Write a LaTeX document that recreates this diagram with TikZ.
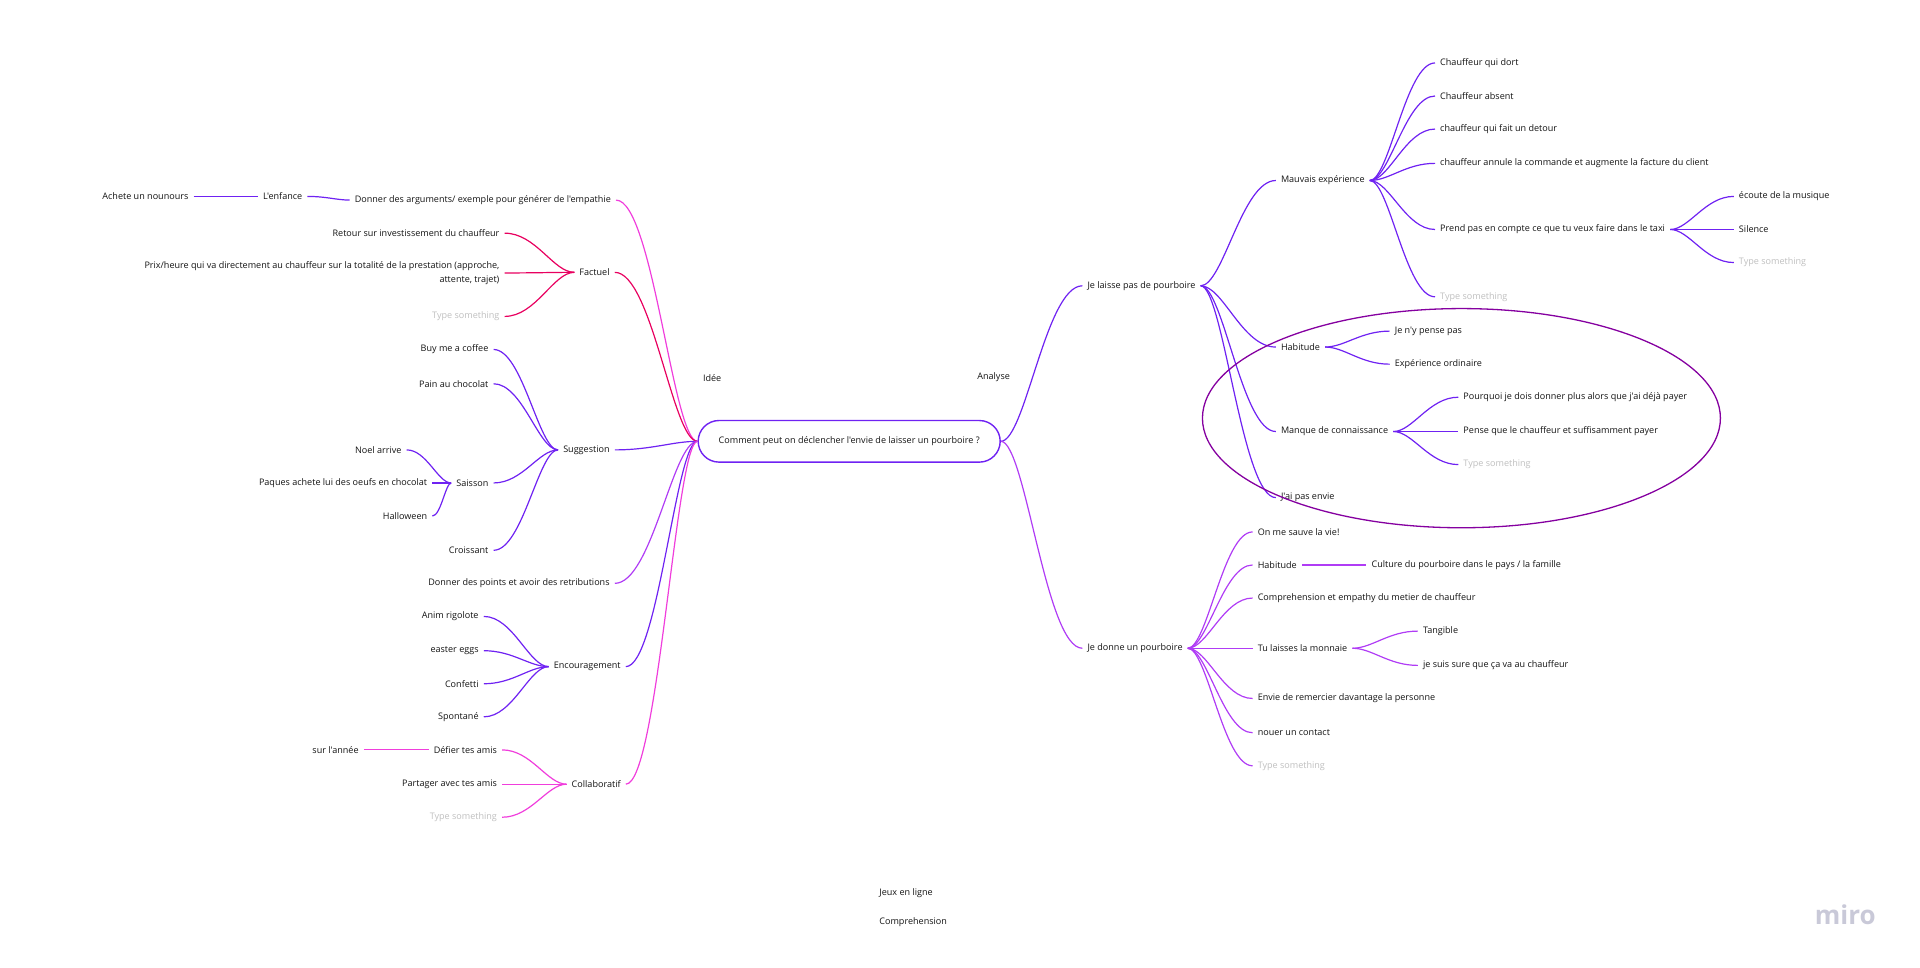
\documentclass[tikz,border=0pt]{standalone}
\usepackage{fontspec}
\newfontfamily\mapfont{Open Sans}
\usetikzlibrary{calc}
\definecolor{violetl}{HTML}{6F22F2}
\definecolor{purplel}{HTML}{B03CF5}
\definecolor{pinkl}{HTML}{F03EDC}
\definecolor{redl}{HTML}{E8005F}
\definecolor{ringl}{HTML}{8500A0}
\definecolor{mirol}{HTML}{C9C9D8}
\tikzset{
    item/.style={font=\mapfont\fontsize{9.05}{13.4}\selectfont, text=black!92, inner xsep=5pt, inner ysep=1pt, yshift=-0.5pt},
    tor/.style={item, anchor=west, xshift=-5pt},
    tol/.style={item, anchor=east, xshift=5pt, align=right},
    ghost/.style={text=black!25},
    linkr/.style={line width=1.2pt, to path={let \p1=(\tikztostart), \p2=(\tikztotarget) in
        (\p1) .. controls (0.7*\x1+0.3*\x2,\y1) and (0.45*\x1+0.55*\x2,\y2) .. (\p2)}},
    linkl/.style={line width=1.2pt, to path={let \p1=(\tikztostart), \p2=(\tikztotarget) in
        (\p1) .. controls (0.55*\x1+0.45*\x2,\y1) and (0.3*\x1+0.7*\x2,\y2) .. (\p2)}},
}
\begin{document}
\begin{tikzpicture}[x=1.2245pt, y=-1.2245pt]
    \useasboundingbox (0,0) rectangle (1568,790.5);

    % centre
    \node[item, draw=violetl, line width=1.4pt, rounded corners=20.8pt, minimum width=302pt, minimum height=41.6pt] (root) at (693.5,360) {Comment peut on déclencher l'envie de laisser un pourboire ?};
    \node[tor] (idee) at (574,308) {Idée};
    \node[tor] (analyse) at (798,308) {Analyse};
    \node[tor] (jeux) at (718,729) {Jeux en ligne};
    \node[tor] (compr) at (718,753) {Comprehension};
    \node[item, font=\mapfont\bfseries\fontsize{26}{26}\selectfont, text=mirol, anchor=east, inner xsep=0pt] (miro) at (1532,747) {miro};

    % arguments
    \node[tol] (enfant) at (154,160) {Achete un nounours};
    \node[tol] (enfance) at (247,160) {L'enfance};
    \node[tol] (args) at (499,163) {Donner des arguments/ exemple pour générer de l'empathie};
    \draw[linkl, violetl] (enfant.east) to (enfance.west);
    \draw[linkl, violetl] (enfance.east) to (args.west);
    \draw[linkl, pinkl] (args.east) to (root.west);

    % factuel
    \node[tol] (factuel) at (498,222) {Factuel};
    \node[tol] (retour) at (408,190) {Retour sur investissement du chauffeur};
    \node[tol] (prix) at (408,222.5) {Prix/heure qui va directement au chauffeur sur la totalité de la prestation (approche,\\attente, trajet)};
    \node[tol, ghost] (factype) at (408,258) {Type something};
    \draw[linkl, redl] (factuel.east) to (root.west);
    \draw[linkl, redl] (retour.east) to (factuel.west);
    \draw[linkl, redl] (prix.east) to (factuel.west);
    \draw[linkl, redl] (factype.east) to (factuel.west);

    % suggestion
    \node[tol] (sugg) at (498,367) {Suggestion};
    \node[tol] (coffee) at (399,285) {Buy me a coffee};
    \node[tol] (pain) at (399,313) {Pain au chocolat};
    \node[tol] (saisson) at (399,394) {Saisson};
    \node[tol] (croissant) at (399,449) {Croissant};
    \node[tol] (noel) at (328,367) {Noel arrive};
    \node[tol] (paques) at (349,394) {Paques achete lui des oeufs en chocolat};
    \node[tol] (halloween) at (349,421) {Halloween};
    \draw[linkl, violetl] (sugg.east) to (root.west);
    \draw[linkl, violetl] (coffee.east) to (sugg.west);
    \draw[linkl, violetl] (pain.east) to (sugg.west);
    \draw[linkl, violetl] (saisson.east) to (sugg.west);
    \draw[linkl, violetl] (croissant.east) to (sugg.west);
    \draw[linkl, violetl] (noel.east) to (saisson.west);
    \draw[linkl, violetl] (paques.east) to (saisson.west);
    \draw[linkl, violetl] (halloween.east) to (saisson.west);

    % points
    \node[tol] (points) at (498,476) {Donner des points et avoir des retributions};
    \draw[linkl, purplel] (points.east) to (root.west);

    % encouragement
    \node[tol] (encour) at (507,544) {Encouragement};
    \node[tol] (anim) at (391,503) {Anim rigolote};
    \node[tol] (easter) at (391,531) {easter eggs};
    \node[tol] (confetti) at (391,558) {Confetti};
    \node[tol] (spontane) at (391,585) {Spontané};
    \draw[linkl, violetl] (encour.east) to (root.west);
    \draw[linkl, violetl] (anim.east) to (encour.west);
    \draw[linkl, violetl] (easter.east) to (encour.west);
    \draw[linkl, violetl] (confetti.east) to (encour.west);
    \draw[linkl, violetl] (spontane.east) to (encour.west);

    % collaboratif
    \node[tol] (collab) at (507,640) {Collaboratif};
    \node[tol] (defier) at (406,612) {Défier tes amis};
    \node[tol] (partager) at (406,640) {Partager avec tes amis};
    \node[tol, ghost] (coltype) at (406,667) {Type something};
    \node[tol] (annee) at (293,612) {sur l'année};
    \draw[linkl, pinkl] (collab.east) to (root.west);
    \draw[linkl, pinkl] (defier.east) to (collab.west);
    \draw[linkl, pinkl] (partager.east) to (collab.west);
    \draw[linkl, pinkl] (coltype.east) to (collab.west);
    \draw[linkl, pinkl] (annee.east) to (defier.west);

    % je laisse pas
    \node[tor] (laisse) at (888,233) {Je laisse pas de pourboire};
    \node[tor] (mauvais) at (1046,147) {Mauvais expérience};
    \node[tor] (dort) at (1176,51) {Chauffeur qui dort};
    \node[tor] (absent) at (1176,78) {Chauffeur absent};
    \node[tor] (detour) at (1176,105) {chauffeur qui fait un detour};
    \node[tor] (annule) at (1176,133) {chauffeur annule la commande et augmente la facture du client};
    \node[tor] (prend) at (1176,187) {Prend pas en compte ce que tu veux faire dans le taxi};
    \node[tor, ghost] (mautype) at (1176,242) {Type something};
    \node[tor] (musique) at (1420,160) {écoute de la musique};
    \node[tor] (silence) at (1420,187) {Silence};
    \node[tor, ghost] (pretype) at (1420,214) {Type something};
    \node[tor] (habit) at (1046,283) {Habitude};
    \node[tor] (pense) at (1139,270) {Je n'y pense pas};
    \node[tor] (ordin) at (1139,297) {Expérience ordinaire};
    \node[tor] (manque) at (1046,352) {Manque de connaissance};
    \node[tor] (pourquoi) at (1195,324) {Pourquoi je dois donner plus alors que j'ai déjà payer};
    \node[tor] (suffit) at (1195,352) {Pense que le chauffeur et suffisamment payer};
    \node[tor, ghost] (mantype) at (1195,379) {Type something};
    \node[tor] (envie) at (1046,406) {J'ai pas envie};
    \draw[linkr, violetl] (root.east) to (laisse.west);
    \draw[linkr, violetl] (laisse.east) to (mauvais.west);
    \draw[linkr, violetl] (laisse.east) to (habit.west);
    \draw[linkr, violetl] (laisse.east) to (manque.west);
    \draw[linkr, violetl] (laisse.east) to (envie.west);
    \draw[linkr, violetl] (mauvais.east) to (dort.west);
    \draw[linkr, violetl] (mauvais.east) to (absent.west);
    \draw[linkr, violetl] (mauvais.east) to (detour.west);
    \draw[linkr, violetl] (mauvais.east) to (annule.west);
    \draw[linkr, violetl] (mauvais.east) to (prend.west);
    \draw[linkr, violetl] (mauvais.east) to (mautype.west);
    \draw[linkr, violetl] (prend.east) to (musique.west);
    \draw[linkr, violetl] (prend.east) to (silence.west);
    \draw[linkr, violetl] (prend.east) to (pretype.west);
    \draw[linkr, violetl] (habit.east) to (pense.west);
    \draw[linkr, violetl] (habit.east) to (ordin.west);
    \draw[linkr, violetl] (manque.east) to (pourquoi.west);
    \draw[linkr, violetl] (manque.east) to (suffit.west);
    \draw[linkr, violetl] (manque.east) to (mantype.west);

    % je donne
    \node[tor] (donne) at (888,529) {Je donne un pourboire};
    \node[tor] (sauve) at (1027,434) {On me sauve la vie!};
    \node[tor] (habitb) at (1027,461) {Habitude};
    \node[tor] (culture) at (1120,461) {Culture du pourboire dans le pays / la famille};
    \node[tor] (empathy) at (1027,488) {Comprehension et empathy du metier de chauffeur};
    \node[tor] (monnaie) at (1027,529) {Tu laisses la monnaie};
    \node[tor] (tangible) at (1162,515) {Tangible};
    \node[tor] (sure) at (1162,543) {je suis sure que ça va au chauffeur};
    \node[tor] (remercier) at (1027,570) {Envie de remercier davantage la personne};
    \node[tor] (nouer) at (1027,598) {nouer un contact};
    \node[tor, ghost] (dontype) at (1027,625) {Type something};
    \draw[linkr, purplel] (root.east) to (donne.west);
    \draw[linkr, purplel] (donne.east) to (sauve.west);
    \draw[linkr, purplel] (donne.east) to (habitb.west);
    \draw[linkr, purplel] (donne.east) to (empathy.west);
    \draw[linkr, purplel] (donne.east) to (monnaie.west);
    \draw[linkr, purplel] (donne.east) to (remercier.west);
    \draw[linkr, purplel] (donne.east) to (nouer.west);
    \draw[linkr, purplel] (donne.east) to (dontype.west);
    \draw[linkr, purplel] (habitb.east) to (culture.west);
    \draw[linkr, purplel] (monnaie.east) to (tangible.west);
    \draw[linkr, purplel] (monnaie.east) to (sure.west);

    % ellipse
    \draw[ringl, line width=1.3pt] (1193.5,341.5) ellipse (211.5 and 89.5);
\end{tikzpicture}
\end{document}
